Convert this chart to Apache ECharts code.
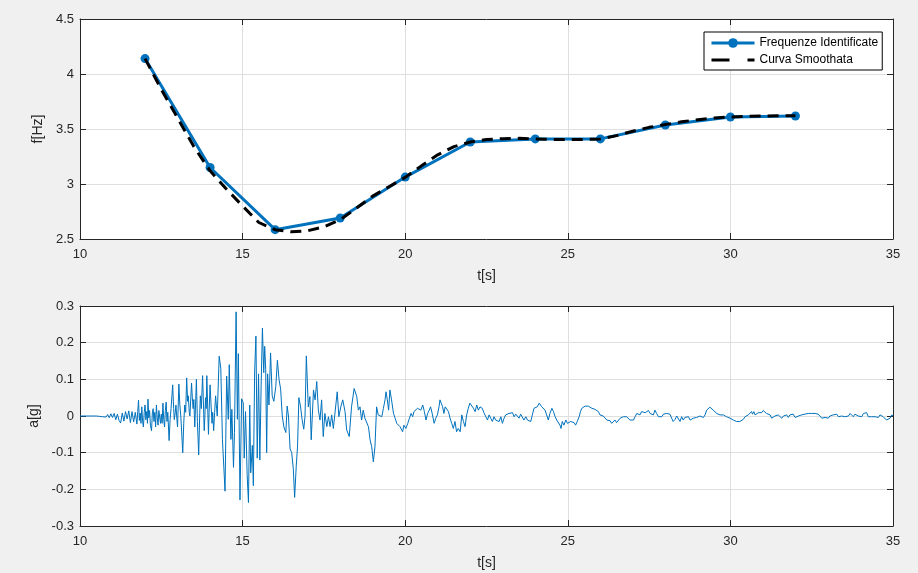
<!DOCTYPE html>
<html>
<head>
<meta charset="utf-8">
<script src="https://cdn.jsdelivr.net/npm/echarts@6/dist/echarts.min.js"></script>
<style>
html,body{margin:0;padding:0;background:#f0f0f0;}
#chart{width:918px;height:573px;}
</style>
</head>
<body>
<div id="chart"></div>
<script>
// ---- Top subplot: identified frequencies ----
const freqTime = [12, 14, 16, 18, 20, 22, 24, 26, 28, 30, 32];
const freqValues = [4.14, 3.15, 2.585, 2.69, 3.063, 3.382, 3.41, 3.41, 3.536, 3.609, 3.618];

// ---- Top subplot: smoothed curve ----
const smoothTime = [12, 12.5, 13, 13.5, 14, 14.5, 15, 15.5, 16, 16.5, 17, 17.5, 18, 18.5, 19, 19.5, 20, 20.5, 21, 21.5, 22, 22.5, 23, 23.5, 24, 24.5, 25, 25.5, 26, 26.5, 27, 27.5, 28, 28.5, 29, 29.5, 30, 30.5, 31, 31.5, 32];
const smoothValues = [4.14, 3.86, 3.6, 3.34, 3.12, 2.955, 2.8, 2.65, 2.585, 2.565, 2.575, 2.61, 2.675, 2.78, 2.89, 2.975, 3.06, 3.165, 3.265, 3.34, 3.382, 3.405, 3.412, 3.415, 3.41, 3.405, 3.405, 3.405, 3.41, 3.44, 3.48, 3.515, 3.54, 3.565, 3.585, 3.6, 3.609, 3.615, 3.618, 3.62, 3.62];

// ---- Bottom subplot: accelerogram samples [t (s), a (g)] ----
const accelSamples = [
[10,0],[10.5,0],[10.55,0.001],[10.6,-0.001],[10.65,0.002],[10.7,-0.002],[10.75,0.003],[10.8,-0.003],[10.85,0.004],[10.9,-0.005],
[10.95,0.006],[11.0,-0.004],[11.05,0.007],[11.1,-0.01],[11.15,0.005],[11.2,-0.012],[11.25,-0.019],[11.3,0.008],[11.35,-0.014],[11.4,0.012],
[11.45,-0.008],[11.5,0.014],[11.55,-0.018],[11.6,0.012],[11.65,-0.016],[11.7,0.01],[11.75,-0.022],[11.775,0.012],[11.8,0.043],[11.825,-0.012],
[11.85,0.008],[11.875,-0.02],[11.9,0.025],[11.925,-0.015],[11.95,-0.03],[11.975,0.01],[12.0,0.03],[12.025,-0.01],[12.05,0.012],[12.075,-0.02],
[12.09,0.046],[12.115,-0.005],[12.14,0.015],[12.165,-0.025],[12.2,-0.04],[12.225,0.008],[12.25,0.02],[12.275,-0.015],[12.3,0.01],[12.325,-0.03],
[12.35,0.03],[12.375,-0.005],[12.4,-0.025],[12.425,0.015],[12.45,0.02],[12.475,-0.02],[12.5,0.005],[12.525,-0.02],[12.55,0.035],[12.575,-0.01],
[12.6,-0.03],[12.625,0.015],[12.65,0.038],[12.675,-0.015],[12.7,0.01],[12.74,-0.067],[12.77,-0.01],[12.8,0.02],[12.85,0.085],[12.88,0.02],
[12.9,-0.01],[12.93,0.01],[12.95,0.03],[12.98,-0.01],[13.0,-0.03],[13.04,0.087],[13.07,0.03],[13.1,0.0],[13.16,-0.1],[13.19,-0.02],
[13.22,0.03],[13.25,0.01],[13.28,0.104],[13.31,0.04],[13.33,0.055],[13.36,0.01],[13.38,0.0],[13.43,0.09],[13.46,0.04],[13.48,0.02],
[13.5,0.045],[13.53,-0.03],[13.58,0.1],[13.61,-0.015],[13.65,-0.106],[13.68,0.0],[13.7,0.055],[13.73,0.02],[13.77,0.11],[13.82,-0.04],
[13.84,0.0],[13.86,0.05],[13.88,0.02],[13.9,0.11],[13.95,-0.05],[13.97,0.01],[14.0,0.085],[14.03,0.03],[14.06,-0.02],[14.08,0.01],
[14.11,-0.04],[14.14,0.01],[14.17,0.055],[14.2,0.02],[14.22,0.0],[14.28,0.163],[14.33,0.13],[14.38,-0.065],[14.46,-0.205],
[14.51,0.109],[14.56,-0.009],[14.59,0.14],[14.64,-0.064],[14.67,0.018],[14.72,-0.14],[14.75,-0.045],[14.8,0.284],[14.84,-0.009],[14.87,0.17],
[14.92,-0.229],[14.97,0.047],[15.02,0.036],[15.05,-0.115],[15.09,0.012],[15.14,-0.16],[15.18,-0.236],[15.22,0.03],[15.25,-0.155],[15.3,-0.08],
[15.33,-0.19],[15.37,0.12],[15.41,0.218],[15.45,-0.115],[15.49,0.115],[15.53,-0.12],[15.57,0.082],[15.61,0.24],[15.65,0.118],[15.68,0.19],
[15.71,0.127],[15.74,-0.1],[15.77,0.115],[15.81,0.03],[15.86,0.172],[15.91,0.055],[15.96,0.04],[16.02,0.08],[16.07,0.152],[16.12,0.1],
[16.17,0.073],[16.22,0.0],[16.27,-0.03],[16.33,-0.045],[16.37,0.027],[16.41,0.0],[16.46,-0.09],[16.51,-0.1],[16.56,-0.145],[16.6,-0.222],
[16.65,-0.136],[16.69,-0.082],[16.73,0.05],[16.78,0.027],[16.83,-0.01],[16.88,-0.036],[16.92,0.0],[16.96,0.164],[17.02,0.025],[17.07,0.053],
[17.11,-0.065],[17.18,0.071],[17.23,0.044],[17.28,0.094],[17.33,0.016],[17.38,-0.011],[17.43,0.044],[17.48,-0.056],[17.53,0.007],[17.59,-0.029],
[17.64,-0.002],[17.69,-0.029],[17.74,0.003],[17.79,-0.034],[17.84,-0.038],[17.91,0.066],[17.96,-0.002],[18.02,0.025],[18.08,0.044],[18.15,0.012],
[18.2,-0.038],[18.28,-0.056],[18.35,0.025],[18.43,0.075],[18.51,0.053],[18.56,0.016],[18.61,0.025],[18.66,-0.011],[18.71,0.016],[18.76,-0.006],
[18.82,-0.002],[18.87,-0.029],[18.92,-0.065],[18.97,-0.084],[19.02,-0.125],[19.07,-0.084],[19.12,0.025],[19.17,0.003],[19.23,0.007],[19.28,-0.002],
[19.33,0.021],[19.38,0.044],[19.41,0.066],[19.45,0.044],[19.49,0.016],[19.53,0.071],[19.58,0.044],[19.64,0.007],[19.69,-0.006],[19.74,-0.02],
[19.79,-0.015],[19.84,-0.029],[19.89,-0.025],[19.92,-0.043],[19.96,-0.025],[20.02,-0.034],[20.08,-0.02],[20.13,-0.006],[20.18,0.007],[20.23,-0.002],
[20.27,0.012],[20.32,0.007],[20.38,0.021],[20.43,0.025],[20.48,0.016],[20.54,0.03],[20.59,0.012],[20.64,-0.011],[20.69,0.007],[20.74,0.016],
[20.78,0.025],[20.83,0.007],[20.89,-0.02],[20.94,-0.006],[20.99,0.003],[21.04,0.025],[21.07,0.044],[21.11,0.048],[21.15,0.025],[21.19,0.007],
[21.23,0.025],[21.28,0.03],[21.33,0.012],[21.38,-0.006],[21.43,-0.02],[21.48,-0.034],[21.53,-0.015],[21.58,-0.043],[21.63,-0.034],[21.69,-0.043],
[21.74,0.003],[21.79,-0.015],[21.84,-0.029],[21.89,0.003],[21.94,0.021],[21.99,0.035],[22.04,0.03],[22.1,0.021],[22.15,0.012],[22.2,0.03],
[22.25,0.016],[22.3,0.025],[22.37,0.021],[22.42,0.009],[22.48,0.007],[22.53,-0.011],[22.58,0.003],[22.63,-0.006],[22.68,-0.015],[22.73,-0.002],
[22.78,-0.011],[22.83,-0.006],[22.89,-0.015],[22.94,-0.002],[22.99,-0.02],[23.04,-0.006],[23.09,0.003],[23.14,-0.002],[23.19,0.007],[23.24,0.005],
[23.3,0.009],[23.35,-0.002],[23.4,0.005],[23.45,0.007],[23.5,-0.006],[23.55,0.005],[23.6,0.003],[23.65,-0.011],[23.71,-0.002],[23.76,-0.011],
[23.81,-0.006],[23.86,-0.015],[23.91,0.003],[23.96,0.021],[24.01,0.018],[24.06,0.025],[24.12,0.035],[24.16,0.036],[24.2,0.025],[24.25,0.021],
[24.3,0.016],[24.35,0.003],[24.4,-0.011],[24.45,0.007],[24.51,0.021],[24.56,0.012],[24.61,-0.002],[24.66,-0.011],[24.71,-0.015],[24.76,-0.025],
[24.79,-0.034],[24.83,-0.015],[24.88,-0.025],[24.94,-0.011],[24.99,-0.02],[25.04,-0.025],[25.09,-0.015],[25.14,-0.02],[25.19,-0.018],[25.24,-0.025],
[25.29,-0.015],[25.35,-0.002],[25.39,0.012],[25.43,0.021],[25.48,0.025],[25.53,0.027],[25.58,0.03],[25.63,0.027],[25.68,0.024],[25.74,0.021],
[25.79,0.024],[25.84,0.018],[25.89,0.016],[25.94,0.012],[25.99,0.003],[26.04,0.007],[26.09,0.0],[26.15,0.003],[26.2,-0.011],[26.25,-0.006],
[26.3,-0.013],[26.35,-0.02],[26.4,-0.015],[26.45,-0.011],[26.5,-0.018],[26.56,-0.015],[26.61,-0.006],[26.66,-0.011],[26.71,-0.002],[26.76,0.003],
[26.81,-0.002],[26.86,-0.006],[26.91,-0.011],[26.97,-0.006],[27.02,-0.011],[27.07,-0.002],[27.12,0.007],[27.17,0.009],[27.22,0.003],[27.27,0.012],
[27.32,0.016],[27.38,0.009],[27.43,0.007],[27.48,0.015],[27.53,0.007],[27.58,0.012],[27.63,0.003],[27.68,0.016],[27.73,0.007],[27.79,-0.002],
[27.84,-0.006],[27.89,-0.002],[27.94,0.005],[27.99,0.0],[28.04,0.007],[28.09,0.003],[28.14,0.005],[28.19,0.0],[28.24,-0.015],[28.3,-0.009],
[28.35,0.0],[28.4,-0.004],[28.45,-0.015],[28.5,-0.002],[28.55,-0.011],[28.6,-0.004],[28.65,-0.009],[28.71,-0.002],[28.76,-0.011],[28.81,-0.015],
[28.86,-0.006],[28.91,-0.009],[28.96,-0.004],[29.01,-0.006],[29.06,0.0],[29.12,-0.002],[29.17,-0.004],[29.22,0.003],[29.27,0.016],[29.32,0.021],
[29.37,0.024],[29.42,0.021],[29.47,0.016],[29.53,0.012],[29.58,0.007],[29.63,0.009],[29.68,0.003],[29.73,0.005],[29.78,0.003],[29.83,0.0],
[29.88,-0.002],[29.94,-0.002],[29.99,-0.006],[30.04,-0.009],[30.09,-0.011],[30.14,-0.013],[30.19,-0.015],[30.24,-0.013],[30.29,-0.015],[30.35,-0.011],
[30.4,-0.009],[30.45,-0.002],[30.5,-0.004],[30.55,0.003],[30.6,0.007],[30.65,0.012],[30.68,0.005],[30.72,0.012],[30.76,0.003],[30.81,0.007],
[30.86,0.009],[30.91,0.012],[30.96,0.009],[31.01,0.015],[31.06,0.012],[31.11,0.007],[31.17,0.003],[31.22,0.003],[31.27,-0.006],[31.32,-0.002],
[31.37,0.0],[31.42,-0.004],[31.47,0.003],[31.52,0.0],[31.58,-0.006],[31.63,0.0],[31.68,-0.002],[31.73,0.003],[31.78,-0.004],[31.83,0.003],
[31.88,0.0],[31.93,0.005],[31.99,-0.004],[32.04,-0.009],[32.09,0.0],[32.14,-0.002],[32.19,0.003],[32.24,0.0],[32.29,0.005],[32.34,0.003],
[32.4,0.007],[32.45,0.005],[32.5,0.007],[32.55,0.009],[32.6,0.007],[32.65,0.009],[32.7,0.005],[32.75,0.0],[32.81,-0.006],[32.86,-0.009],
[32.91,-0.004],[32.96,-0.002],[33.01,-0.006],[33.06,0.0],[33.11,-0.004],[33.16,0.003],[33.22,0.0],[33.27,0.005],[33.32,-0.002],[33.37,0.003],
[33.42,0.0],[33.47,0.005],[33.52,-0.002],[33.57,0.003],[33.63,0.0],[33.68,0.007],[33.73,0.003],[33.78,-0.002],[33.83,0.005],[33.88,0.009],
[33.93,0.0],[33.98,0.003],[34.04,-0.002],[34.09,0.007],[34.14,0.005],[34.19,0.009],[34.24,-0.002],[34.29,-0.004],[34.34,-0.002],[34.39,-0.006],
[34.45,-0.002],[34.5,0.0],[34.55,-0.004],[34.6,0.003],[34.65,0.0],[34.7,-0.002],[34.75,-0.006],[34.8,-0.011],[34.86,-0.014],[34.91,-0.006],
[34.96,0.003],[35,0.0]
];

const xTicks = {min: 10, max: 35, interval: 5};
const topY = {min: 2.5, max: 4.5, interval: 0.5};
const botY = {min: -0.3, max: 0.3, interval: 0.1};

const AX = '#262626';
const GRIDC = '#dfdfdf';
const FONT = "'Liberation Sans', Arial, Helvetica, sans-serif";

function mainX(gi, name) {
  return {
    type: 'value', gridIndex: gi, position: 'bottom',
    min: xTicks.min, max: xTicks.max, interval: xTicks.interval,
    axisLine: {show: true, onZero: false, lineStyle: {color: AX, width: 1}},
    axisTick: {show: true, inside: true, length: 6, lineStyle: {color: AX}},
    axisLabel: {color: AX, fontSize: 13, fontFamily: FONT, margin: 9},
    splitLine: {show: true, lineStyle: {color: GRIDC, width: 1}},
    name: name, nameLocation: 'middle', nameGap: 30,
    nameTextStyle: {color: AX, fontSize: 14, fontFamily: FONT}
  };
}
function secX(gi) {
  return {
    type: 'value', gridIndex: gi, position: 'top',
    min: xTicks.min, max: xTicks.max, interval: xTicks.interval,
    axisLine: {show: true, onZero: false, lineStyle: {color: AX, width: 1}},
    axisTick: {show: true, inside: true, length: 6, lineStyle: {color: AX}},
    axisLabel: {show: false}, splitLine: {show: false}
  };
}
function mainY(gi, rng, name) {
  return {
    type: 'value', gridIndex: gi, position: 'left',
    min: rng.min, max: rng.max, interval: rng.interval,
    axisLine: {show: true, onZero: false, lineStyle: {color: AX, width: 1}},
    axisTick: {show: true, inside: true, length: 6, lineStyle: {color: AX}},
    axisLabel: {color: AX, fontSize: 13, fontFamily: FONT, margin: 6},
    splitLine: {show: true, lineStyle: {color: GRIDC, width: 1}},
    name: name, nameLocation: 'middle', nameGap: 25, nameRotate: 90,
    nameTextStyle: {color: AX, fontSize: 14, fontFamily: FONT}
  };
}
function secY(gi, rng) {
  return {
    type: 'value', gridIndex: gi, position: 'right',
    min: rng.min, max: rng.max, interval: rng.interval,
    axisLine: {show: true, onZero: false, lineStyle: {color: AX, width: 1}},
    axisTick: {show: true, inside: true, length: 6, lineStyle: {color: AX}},
    axisLabel: {show: false}, splitLine: {show: false}
  };
}

const chart = echarts.init(document.getElementById('chart'), null, {renderer: 'canvas'});
chart.setOption({
  backgroundColor: '#f0f0f0',
  animation: false,
  grid: [
    {left: 80, top: 19, width: 813, height: 220, show: true, backgroundColor: '#ffffff', borderWidth: 0},
    {left: 80, top: 306, width: 813, height: 220, show: true, backgroundColor: '#ffffff', borderWidth: 0}
  ],
  xAxis: [mainX(0, 't[s]'), secX(0), mainX(1, 't[s]'), secX(1)],
  yAxis: [mainY(0, topY, 'f[Hz]'), secY(0, topY), mainY(1, botY, 'a[g]'), secY(1, botY)],
  legend: {
    orient: 'vertical', left: 704, top: 32,
    backgroundColor: '#ffffff', borderColor: '#000000', borderWidth: 1, borderRadius: 0,
    padding: [4, 4, 3, 6], itemWidth: 43, itemHeight: 12, itemGap: 3,
    textStyle: {color: '#000000', fontSize: 12, fontFamily: FONT, lineHeight: 14},
    data: [
      {name: 'Frequenze Identificate', lineStyle: {width: 3, color: '#0072BD'}},
      {name: 'Curva Smoothata', itemStyle: {opacity: 0}, lineStyle: {width: 3, color: '#000000', type: [18, 18]}}
    ]
  },
  series: [
    {
      name: 'Frequenze Identificate', type: 'line', xAxisIndex: 0, yAxisIndex: 0,
      data: freqTime.map((t, i) => [t, freqValues[i]]),
      symbol: 'circle', symbolSize: 9, showSymbol: true,
      lineStyle: {color: '#0072BD', width: 3},
      itemStyle: {color: '#0072BD'}, z: 2
    },
    {
      name: 'Curva Smoothata', type: 'line', xAxisIndex: 0, yAxisIndex: 0,
      data: smoothTime.map((t, i) => [t, smoothValues[i]]),
      showSymbol: false, symbol: 'none', smooth: false,
      lineStyle: {color: '#000000', width: 3, type: [11, 7]},
      itemStyle: {color: '#000000'}, z: 3
    },
    {
      name: 'accel', type: 'line', xAxisIndex: 2, yAxisIndex: 2,
      data: accelSamples, showSymbol: false, symbol: 'none',
      lineStyle: {color: '#0072BD', width: 1}, z: 2
    }
  ]
});
</script>
</body>
</html>
